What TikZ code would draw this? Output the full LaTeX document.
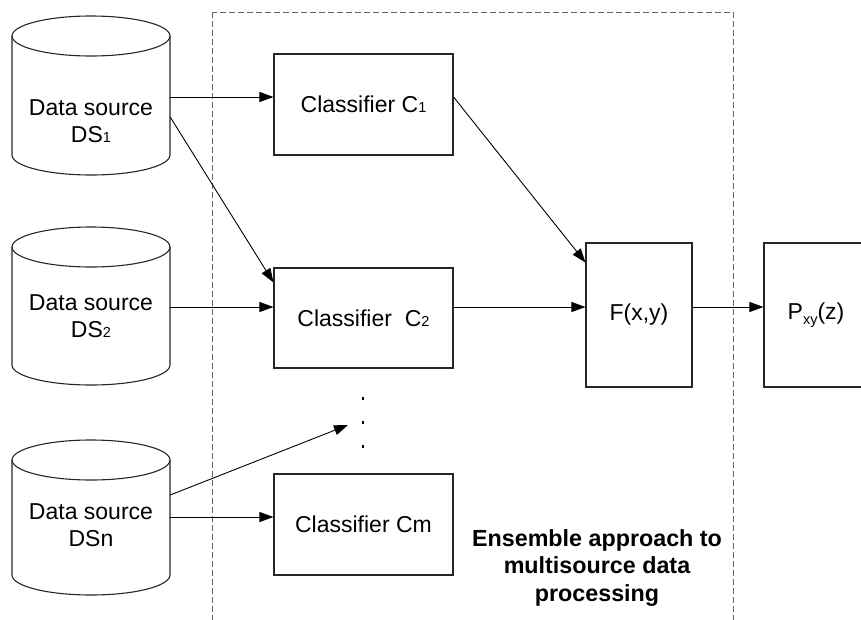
\documentclass[tikz,border=0pt]{standalone}
\usepackage{fontspec}
\setmainfont{Liberation Sans}
\usetikzlibrary{arrows.meta}

% small index digits set on the baseline, and a lowered index
\newcommand{\smallidx}[1]{{\fontsize{14.5}{14.5}\selectfont #1}}
\newcommand{\lowidx}[1]{\raisebox{-5pt}{\fontsize{14.5}{14.5}\selectfont #1}}

% data-source drum: centre x, top y, bottom y
\newcommand{\dbcylinder}[3]{%
  \draw[cylline] (#1-79,#2+20) -- (#1-79,#3-20)
    arc[start angle=180,end angle=360,x radius=79pt,y radius=20pt]
    -- (#1+79,#2+20);
  \draw[cylline] (#1,#2+20) ellipse [x radius=79pt,y radius=20pt];
}

\tikzset{
  cylline/.style={line width=1.1pt,draw=black!85},
  srctext/.style={align=center,minimum width=158pt,inner sep=0pt,
    font=\fontsize{23}{27.5}\selectfont},
  procbox/.style={draw=black!85,line width=1.1pt,inner sep=0pt,
    font=\fontsize{23}{27.5}\selectfont},
  conn/.style={draw=black,line width=0.9pt,-{Triangle[length=14pt,width=10pt]}},
  groupframe/.style={draw=black!60,line width=1pt,dash pattern=on 6pt off 3pt},
  grouplabel/.style={align=center,font=\fontsize{23.3}{27.5}\selectfont\bfseries}
}

\begin{document}
\begin{tikzpicture}[x=1pt,y=-1pt]
\useasboundingbox (0,0) rectangle (861,619);
\clip (0,0) rectangle (861,619);

% ensemble frame (runs off the lower edge)
\draw[groupframe] (212,12) rectangle (733,650);

% data sources
\dbcylinder{91}{16}{175}
\dbcylinder{91}{227}{385}
\dbcylinder{91}{440}{595}
\node[srctext] (ds1) at (91,121) {Data source\\DS\smallidx{1}};
\node[srctext] (ds2) at (91,316) {Data source\\DS\smallidx{2}};
\node[srctext] (dsn) at (91,525) {Data source\\DSn};

% classifiers
\node[procbox,minimum width=179pt,minimum height=101pt] (c1) at (363.5,104.5) {Classifier C\smallidx{1}};
\node[procbox,minimum width=179pt,minimum height=100pt] (c2) at (363.5,318) {Classifier\ \ C\smallidx{2}};
\node[procbox,minimum width=179pt,minimum height=101pt] (cm) at (363.5,524.5) {Classifier Cm};

% combination and output
\node[procbox,minimum width=106pt,minimum height=144pt] (f) at (639,315) {F(x,y)};
\node[procbox,minimum width=104pt,minimum height=144pt] (p) at (816,315) {P\lowidx{xy}(z)};

% vertical ellipsis between the classifiers
\foreach \yy in {397,421,445}
  \fill (361.8,\yy) rectangle ++(2.6,2.6);
\coordinate (dotstip) at (348,425);

\node[grouplabel] (lbl) at (597,568) {Ensemble approach to\\multisource data\\processing};

% connectors
\draw[conn] ([yshift=24pt]ds1.east) coordinate (s1) -- (s1 -| c1.west);
\draw[conn] ([yshift=4pt]ds1.east) -- ([yshift=-15pt]c2.north west);
\draw[conn] ([yshift=9pt]ds2.east) coordinate (s2) -- (s2 -| c2.west);
\draw[conn] ([yshift=30pt]dsn.east) -- (dotstip);
\draw[conn] ([yshift=8pt]dsn.east) coordinate (s3) -- (s3 -| cm.west);
\draw[conn] ([yshift=7.5pt]c1.east) -- ([yshift=-20pt]f.north west);
\draw[conn] ([yshift=11pt]c2.east) coordinate (s4) -- (s4 -| f.west);
\draw[conn] ([yshift=8pt]f.east) coordinate (s5) -- (s5 -| p.west);
\end{tikzpicture}
\end{document}
